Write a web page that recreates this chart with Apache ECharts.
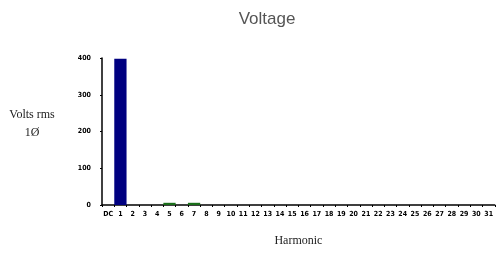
<!DOCTYPE html>
<html><head><meta charset="utf-8">
<script src="https://cdn.jsdelivr.net/npm/echarts@6/dist/echarts.min.js"></script>
<style>html,body{margin:0;padding:0;background:#fff}#c{width:496px;height:255px}</style>
</head><body><div id="c"></div>
<script>
var categories = ['DC','1','2','3','4','5','6','7','8','9','10','11','12','13','14','15','16','17','18','19','20','21','22','23','24','25','26','27','28','29','30','31'];
var voltsRms = [0,398,0,0,0,6,0,6,0,0,0,0,0,0,0,0,0,0,0,0,0,0,0,0,0,0,0,0,0,0,0,0];
var yTicks = [0,100,200,300,400];
var barColors = {'1':'#000080'};
var defaultColor = '#1a6e1a';

var chart = echarts.init(document.getElementById('c'), null, {renderer:'canvas'});
var tickFont = {fontFamily:'"DejaVu Sans Condensed","Liberation Sans Narrow",sans-serif', fontSize:7, fontWeight:'bold', color:'#000'};
chart.setOption({
  animation:false,
  title:{text:'Voltage', left:262, top:6, textAlign:'center',
    textStyle:{fontFamily:'"Liberation Sans",Arial,sans-serif', fontSize:17, fontWeight:'normal', color:'#555'}},
  graphic:[{type:'text', x:32, y:106, style:{text:'Volts rms\n1Ø', textAlign:'center',
    font:'12px "Liberation Serif","Times New Roman",serif', fill:'#222', lineHeight:18}}],
  grid:{left:102, right:0, top:58, bottom:50},
  xAxis:{type:'category', data:categories, boundaryGap:true,
    name:'Harmonic', nameLocation:'middle', nameGap:30,
    nameTextStyle:{fontFamily:'"Liberation Serif","Times New Roman",serif', fontSize:12, color:'#222'},
    axisLine:{lineStyle:{color:'#000', width:1.5}},
    axisTick:{show:true, alignWithLabel:false, length:2, inside:false, lineStyle:{color:'#000'}},
    axisLabel:Object.assign({interval:0, margin:6}, tickFont)},
  yAxis:{type:'value', min:yTicks[0], max:yTicks[yTicks.length-1], interval:100,
    axisLine:{show:true, lineStyle:{color:'#000', width:1.5}},
    axisTick:{show:true, length:2, lineStyle:{color:'#000'}},
    splitLine:{show:false},
    axisLabel:Object.assign({margin:11}, tickFont)},
  series:[{type:'bar', barCategoryGap:'0%',
    data:voltsRms.map(function(v,i){return {value:v, itemStyle:{color:barColors[categories[i]]||defaultColor}};})}]
});
</script></body></html>
